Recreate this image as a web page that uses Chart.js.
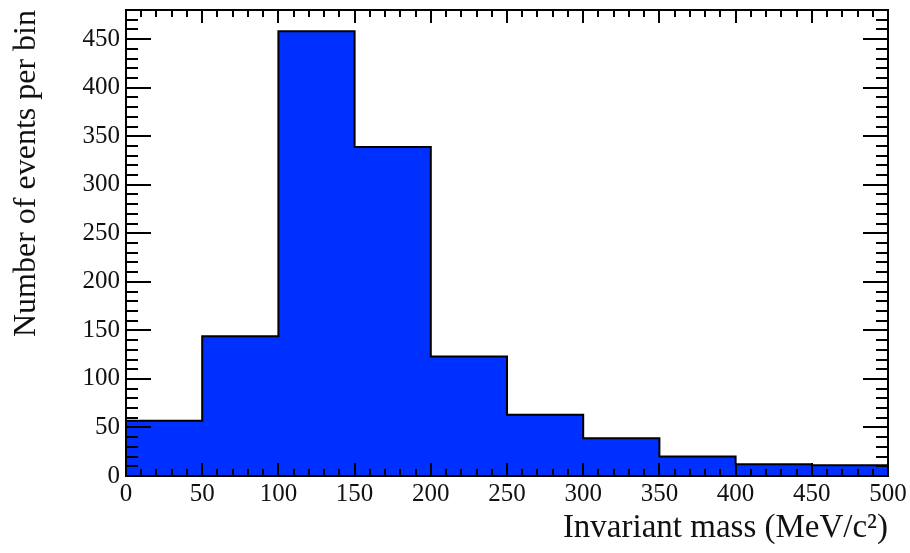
<!DOCTYPE html>
<html>
<head>
<meta charset="utf-8">
<script src="https://cdn.jsdelivr.net/npm/chart.js@4/dist/chart.umd.min.js"></script>
<style>
  html, body { margin: 0; padding: 0; background: #ffffff; }
  #wrap { width: 910px; height: 553px; position: relative; }
</style>
</head>
<body>
<div id="wrap"><canvas id="c" width="910" height="553"></canvas></div>
<script>
// ---- data ----
const binEdges = [0, 50, 100, 150, 200, 250, 300, 350, 400, 450, 500];
const counts = [57, 144, 458, 339, 123, 63, 39, 20, 12, 11];
const xTickValues = [0, 50, 100, 150, 200, 250, 300, 350, 400, 450, 500];
const yTickValues = [0, 50, 100, 150, 200, 250, 300, 350, 400, 450];
const xTitle = 'Invariant mass (MeV/c\u00B2)';
const yTitle = 'Number of events per bin';

// step outline points: each bin edge carries the count of the bin that starts there
const stepPoints = binEdges.map((e, i) => ({ x: e, y: counts[Math.min(i, counts.length - 1)] }));

const FONT = "'Liberation Serif', 'Times New Roman', serif";

const frameTicks = {
  id: 'frameTicks',
  afterDraw(chart) {
    const { ctx, chartArea: a, scales: { x, y } } = chart;
    ctx.save();
    ctx.strokeStyle = '#000';
    ctx.lineWidth = 2;
    ctx.lineCap = 'butt';
    ctx.beginPath();
    for (let v = x.min; v <= x.max + 1e-9; v += 10) {
      const px = Math.round(x.getPixelForValue(v));
      const major = Math.abs(v % 50) < 1e-9;
      const len = major ? 13 : 7;
      ctx.moveTo(px, a.bottom); ctx.lineTo(px, a.bottom - len);
      ctx.moveTo(px, a.top); ctx.lineTo(px, a.top + len);
    }
    for (let v = y.min; v <= y.max + 1e-9; v += 10) {
      const py = Math.round(y.getPixelForValue(v));
      const major = Math.abs(v % 50) < 1e-9;
      const len = major ? 25 : 12;
      ctx.moveTo(a.left, py); ctx.lineTo(a.left + len, py);
      ctx.moveTo(a.right, py); ctx.lineTo(a.right - len, py);
    }
    ctx.stroke();
    ctx.strokeRect(a.left, a.top, a.right - a.left, a.bottom - a.top);
    ctx.restore();
  }
};

new Chart(document.getElementById('c'), {
  type: 'line',
  data: {
    datasets: [{
      label: 'events',
      data: stepPoints,
      stepped: true,
      fill: 'origin',
      backgroundColor: '#0030ff',
      borderColor: '#000000',
      borderWidth: 2,
      pointRadius: 0,
      tension: 0
    }]
  },
  options: {
    responsive: false,
    animation: false,
    devicePixelRatio: 1,
    layout: { padding: { top: 10, right: 22, left: 0, bottom: 0 } },
    plugins: { legend: { display: false }, tooltip: { enabled: false } },
    scales: {
      x: {
        type: 'linear',
        min: 0,
        max: 500,
        afterFit(s) { s.height = 77; s.paddingLeft = 0; s.paddingRight = 0; },
        afterBuildTicks(s) { s.ticks = xTickValues.map(v => ({ value: v })); },
        grid: { display: false, drawTicks: false },
        border: { display: false },
        ticks: {
          autoSkip: false, maxRotation: 0, padding: 3,
          color: '#111', font: { family: FONT, size: 25 }
        },
        title: {
          display: true, text: xTitle, align: 'end',
          color: '#111', font: { family: FONT, size: 33 },
          padding: { top: 0, bottom: 5 }
        }
      },
      y: {
        type: 'linear',
        min: 0,
        max: 480,
        afterFit(s) { s.width = 126; s.paddingTop = 0; s.paddingBottom = 0; },
        afterBuildTicks(s) { s.ticks = yTickValues.map(v => ({ value: v })); },
        grid: { display: false, drawTicks: false },
        border: { display: false },
        ticks: {
          autoSkip: false, padding: 6,
          color: '#111', font: { family: FONT, size: 25 }
        },
        title: {
          display: true, text: yTitle, align: 'end',
          color: '#111', font: { family: FONT, size: 32 },
          padding: { top: 7, bottom: 0 }
        }
      }
    }
  },
  plugins: [frameTicks]
});
</script>
</body>
</html>
